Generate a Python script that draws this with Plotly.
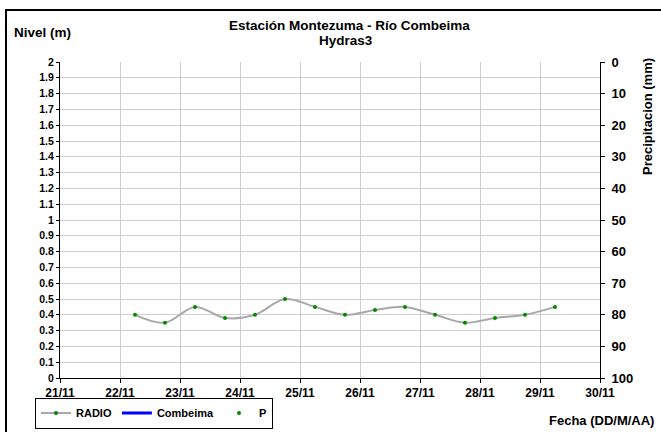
import plotly.graph_objects as go

# ---- data ----
fechas = [
    "2013-11-22 06:00", "2013-11-22 18:00",
    "2013-11-23 06:00", "2013-11-23 18:00",
    "2013-11-24 06:00", "2013-11-24 18:00",
    "2013-11-25 06:00", "2013-11-25 18:00",
    "2013-11-26 06:00", "2013-11-26 18:00",
    "2013-11-27 06:00", "2013-11-27 18:00",
    "2013-11-28 06:00", "2013-11-28 18:00",
    "2013-11-29 06:00",
]
radio = [0.40, 0.35, 0.45, 0.38, 0.40, 0.50, 0.45, 0.40,
         0.43, 0.45, 0.40, 0.35, 0.38, 0.40, 0.45]
# series present in the legend but without readable values in the chart
combeima_x = [None]
combeima_y = [None]
p_x = [None]
p_y = [None]

x_range = ["2013-11-21", "2013-11-30"]
nivel_range = [0, 2]
precip_range = [100, 0]

# ---- layout geometry ----
W, H = 661, 432
ML, MR, MT, MB = 60, 61, 62, 54
PW, PH = W - ML - MR, H - MT - MB


def px(x):
    return (x - ML) / PW


def py(y):
    return (H - MB - y) / PH


FONT = "Liberation Sans, Arial, sans-serif"
GRID = "#cfcfcf"

fig = go.Figure()
fig.add_trace(go.Scatter(
    x=fechas, y=radio, name="RADIO", mode="lines+markers",
    line=dict(color="#a8a8a8", width=2, shape="spline"),
    marker=dict(color="#008a00", size=4),
))
fig.add_trace(go.Scatter(
    x=combeima_x, y=combeima_y, name="Combeima", mode="lines",
    line=dict(color="#0000ff", width=3),
))
fig.add_trace(go.Scatter(
    x=p_x, y=p_y, name="P", mode="markers", yaxis="y2",
    marker=dict(color="#008a00", size=4),
))

fig.update_layout(
    width=W, height=H,
    margin=dict(l=ML, r=MR, t=MT, b=MB, autoexpand=False),
    paper_bgcolor="white", plot_bgcolor="white",
    font=dict(family=FONT, color="black", weight="bold"),
    showlegend=True,
    legend=dict(
        orientation="h", xref="container", yref="container",
        x=35 / W, y=1 - 397.5 / H, xanchor="left", yanchor="top",
        bordercolor="black", borderwidth=1, bgcolor="rgba(255,255,255,0)",
        font=dict(size=11, family=FONT, weight="bold"),
        tracegroupgap=0, itemwidth=30,
    ),
    xaxis=dict(
        type="date", range=x_range, dtick=86400000, tick0="2013-11-21",
        tickformat="%d/%m", showgrid=True, gridcolor=GRID, gridwidth=1,
        showline=True, linecolor="black", linewidth=1,
        ticks="outside", ticklen=4, tickcolor="black",
        tickfont=dict(size=12, family=FONT, weight="bold"),
        zeroline=False, fixedrange=True, automargin=False,
    ),
    yaxis=dict(
        range=nivel_range, dtick=0.1, tick0=0,
        showgrid=True, gridcolor=GRID, gridwidth=1,
        showline=True, linecolor="black", linewidth=1,
        ticks="outside", ticklen=3, tickcolor="black",
        tickfont=dict(size=10.5, family=FONT, weight="bold"),
        zeroline=False, automargin=False,
    ),
    yaxis2=dict(
        range=precip_range, dtick=10, tick0=0,
        overlaying="y", side="right", showgrid=False,
        showline=True, linecolor="black", linewidth=1,
        ticks="outside", ticklen=4, tickcolor="black",
        ticklabelstandoff=4,
        tickfont=dict(size=13, family=FONT, weight="bold"),
        zeroline=False, automargin=False,
    ),
    shapes=[dict(
        type="rect", xref="paper", yref="paper",
        x0=px(6), x1=px(W + 20), y0=py(H + 20), y1=py(10),
        line=dict(color="black", width=2),
    )],
    annotations=[
        dict(text="Estación Montezuma - Río Combeima",
             xref="paper", yref="paper", x=px(349), y=py(25),
             xanchor="center", yanchor="middle", showarrow=False,
             font=dict(size=13.5, family=FONT, weight="bold")),
        dict(text="Hydras3",
             xref="paper", yref="paper", x=px(346), y=py(40),
             xanchor="center", yanchor="middle", showarrow=False,
             font=dict(size=13.5, family=FONT, weight="bold")),
        dict(text="Nivel (m)", xref="paper", yref="paper",
             x=px(12), y=py(33), xanchor="left", yanchor="middle",
             showarrow=False, font=dict(size=13.5, family=FONT, weight="bold")),
        dict(text="Precipitacion (mm)", xref="paper", yref="paper",
             x=px(647), y=py(117), xanchor="center", yanchor="middle",
             textangle=-90, showarrow=False,
             font=dict(size=13, family=FONT, weight="bold")),
        dict(text="Fecha (DD/M/AA)", xref="paper", yref="paper",
             x=px(656), y=py(420), xanchor="right", yanchor="middle",
             showarrow=False, font=dict(size=13, family=FONT, weight="bold")),
    ],
)

fig.write_html(
    "out.html",
    config={"displayModeBar": False},
    post_script="document.body.style.margin='0';document.body.style.overflow='hidden';",
)
